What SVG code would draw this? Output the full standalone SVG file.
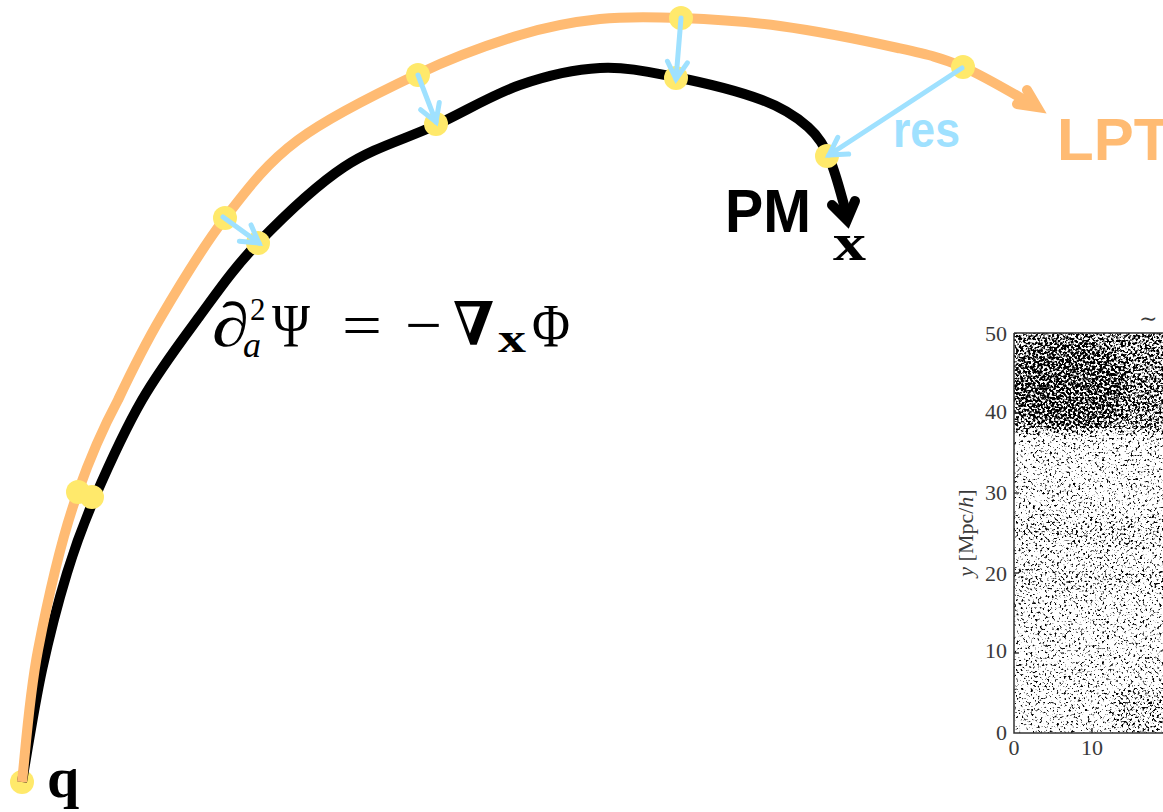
<svg xmlns="http://www.w3.org/2000/svg" width="1163" height="812" viewBox="0 0 1163 812">
<defs>
<style>
.orange{fill:none;stroke:#FFBB73;stroke-width:10;stroke-linecap:butt;}
.black{fill:none;stroke:#000;stroke-width:10;stroke-linecap:butt;}
.ohead{fill:none;stroke:#FFBB73;stroke-width:10;stroke-linecap:round;stroke-linejoin:miter;}
.bhead{fill:none;stroke:#000;stroke-width:10;stroke-linecap:round;stroke-linejoin:miter;}
.dot{fill:#FFE96B;}
.res{fill:none;stroke:#9FE1FF;stroke-width:5;stroke-linecap:round;marker-end:url(#bh);}
.lbl{font-family:"Liberation Sans",Arial,sans-serif;font-weight:bold;}
.math{font-family:"Liberation Serif","DejaVu Serif",serif;fill:#000;}
.tick{font-family:"Liberation Serif","DejaVu Serif",serif;font-size:22px;fill:#3a3a3a;}
.tk{stroke:#333;stroke-width:1.5;}
</style>
<marker id="bh" markerUnits="userSpaceOnUse" markerWidth="30" markerHeight="30" refX="0" refY="0" orient="auto" overflow="visible">
<path d="M-17,-10 L0,0 L-17,10" fill="none" stroke="#9FE1FF" stroke-width="5" stroke-linecap="round" stroke-linejoin="miter"/>
</marker>
<filter id="scatter" filterUnits="userSpaceOnUse" x="1014" y="333" width="150" height="400" color-interpolation-filters="sRGB">
<feGaussianBlur in="SourceAlpha" stdDeviation="5" result="d"/>
<feTurbulence type="fractalNoise" baseFrequency="0.42" numOctaves="2" seed="7" result="n"/>
<feColorMatrix in="n" type="matrix" values="0 0 0 0 0  0 0 0 0 0  0 0 0 0 0  1 0 0 0 0" result="na"/>
<feComposite in="na" in2="d" operator="arithmetic" k1="0" k2="1" k3="0.35" k4="0" result="s"/>
<feComponentTransfer in="s">
<feFuncA type="linear" slope="7" intercept="-4.95"/>
</feComponentTransfer>
</filter>
</defs>
<rect width="1163" height="812" fill="#fff"/>

<g id="plot">
<g filter="url(#scatter)">
<rect x="1000" y="320" width="180" height="430" fill="#000" fill-opacity="0.36"/>
<rect x="1000" y="320" width="180" height="112" fill="#000" fill-opacity="0.6"/>
<ellipse cx="1070" cy="385" rx="58" ry="45" fill="#000" fill-opacity="0.6"/>
<rect x="1000" y="515" width="180" height="30" fill="#000" fill-opacity="0.14"/>
<rect x="1000" y="568" width="180" height="22" fill="#000" fill-opacity="0.14"/>
<ellipse cx="1150" cy="715" rx="40" ry="30" fill="#000" fill-opacity="0.25"/>
</g>
<path d="M1014,333 H1170 M1014,333 V733 H1170" fill="none" stroke="#333" stroke-width="1.5"/>
<path class="tk" d="M1014,413 h5 M1014,493 h5 M1014,573 h5 M1014,653 h5 M1092,733 v-5"/>
<text class="tick" x="1007" y="340.5" text-anchor="end">50</text>
<text class="tick" x="1007" y="419" text-anchor="end">40</text>
<text class="tick" x="1007" y="499.5" text-anchor="end">30</text>
<text class="tick" x="1007" y="580.5" text-anchor="end">20</text>
<text class="tick" x="1007" y="657.5" text-anchor="end">10</text>
<text class="tick" x="1007" y="739.5" text-anchor="end">0</text>
<text class="tick" x="1014" y="755" text-anchor="middle">0</text>
<text class="tick" x="1092" y="755" text-anchor="middle">10</text>
<text class="tick" transform="translate(973,533) rotate(-90)" text-anchor="middle"><tspan font-style="italic">y</tspan> [Mpc/<tspan font-style="italic">h</tspan>]</text>
<text x="1139" y="326" font-family="'DejaVu Serif',serif" font-size="22" fill="#3a3a3a">∼</text>
</g>

<g id="node-q-dot"><circle class="dot" cx="22" cy="782" r="12"/></g>

<g id="connectors">
<path id="pm-path" class="black" d="M22,782 C25.3,763.3 34.5,704.8 42,670 C49.5,635.2 58.2,601.8 67,573 C75.8,544.2 82.5,525.8 95,497 C107.5,468.2 124.7,430 142,400 C159.3,370 179.7,343.2 199,317 C218.3,290.8 233.8,268 258,243 C282.2,218 314.3,186.7 344,167 C373.7,147.3 406.7,138.7 436,125 C465.3,111.3 492.7,94.5 520,85 C547.3,75.5 574.2,69.3 600,68 C625.8,66.7 648,71.7 675,77 C702,82.3 739.8,91.7 762,100 C784.2,108.3 796.7,117 808,127 C819.3,137 823.7,145.8 830,160 C836.3,174.2 843.3,203.3 846,212"/>
<polyline class="bhead" points="832,205 847,220 855,201"/>
<path id="lpt-path" class="orange" d="M22,782 C24.7,760 28.7,698.3 38,650 C47.3,601.7 62,536 78,492 C92,452 103,428 118,400 C131.8,370.8 143.2,347.3 161,317 C178.8,286.7 202.2,247.5 225,218 C247.8,188.5 265.8,164 298,140 C330.2,116 381,91.5 418,74 C455,56.5 489.7,44.2 520,35 C550.3,25.8 573.2,21.8 600,19 C626.8,16.2 651,16.8 681,18 C711,19.2 743.8,21 780,26 C816.2,31 867.5,41.2 898,48 C928.5,54.8 940.2,57.3 963,67 C985.8,76.7 1023,99.5 1035,106"/>
<polyline class="ohead" points="1027,90 1037,107 1017,104"/>
</g>

<g id="nodes-dots">
<circle class="dot" cx="78" cy="492" r="12"/>
<circle class="dot" cx="92" cy="497" r="12"/>
<circle class="dot" cx="225" cy="218" r="12"/>
<circle class="dot" cx="258" cy="243" r="12"/>
<circle class="dot" cx="418" cy="75" r="12"/>
<circle class="dot" cx="436" cy="124" r="12"/>
<circle class="dot" cx="681" cy="18" r="12"/>
<circle class="dot" cx="676" cy="78" r="12"/>
<circle class="dot" cx="963" cy="67" r="12"/>
<circle class="dot" cx="827" cy="156" r="12"/>
</g>

<g id="residuals">
<path class="res" d="M223,217 L259,243"/>
<path class="res" d="M418,75 L436,122"/>
<path class="res" d="M681,18 L676,79"/>
<path class="res" d="M962,68 L829,155"/>
</g>

<g id="label-res"><text class="lbl" x="893" y="147" font-size="50" fill="#9FE1FF" textLength="67" lengthAdjust="spacingAndGlyphs">res</text></g>
<g id="label-lpt"><text class="lbl" x="1057" y="160" font-size="60" fill="#FFBB73">LPT</text></g>
<g id="label-pm"><text class="lbl" x="725" y="232" font-size="61" fill="#000" textLength="86" lengthAdjust="spacingAndGlyphs">PM</text></g>
<g id="label-x"><text class="math" x="833" y="260" font-size="52" font-weight="bold" textLength="33" lengthAdjust="spacingAndGlyphs">x</text></g>
<g id="label-q"><text class="math" x="47" y="797" font-size="58" font-weight="bold">q</text></g>

<g id="formula" class="math">
<text x="212" y="346" font-size="62" font-style="italic" textLength="37" lengthAdjust="spacingAndGlyphs">∂</text>
<text x="250" y="320" font-size="31">2</text>
<text x="243" y="357" font-size="36" font-style="italic">a</text>
<text x="272" y="346" font-size="62" textLength="38" lengthAdjust="spacingAndGlyphs">Ψ</text>
<text x="342" y="346" font-size="62" textLength="40" lengthAdjust="spacingAndGlyphs">=</text>
<text x="405" y="346" font-size="62" textLength="37" lengthAdjust="spacingAndGlyphs">−</text>
<text x="453" y="345" font-size="60" font-weight="bold" textLength="41" lengthAdjust="spacingAndGlyphs">∇</text>
<text x="498" y="352" font-size="40" font-weight="bold" textLength="28" lengthAdjust="spacingAndGlyphs">x</text>
<text x="532" y="346" font-size="62" textLength="38" lengthAdjust="spacingAndGlyphs">Φ</text>
</g>
</svg>
